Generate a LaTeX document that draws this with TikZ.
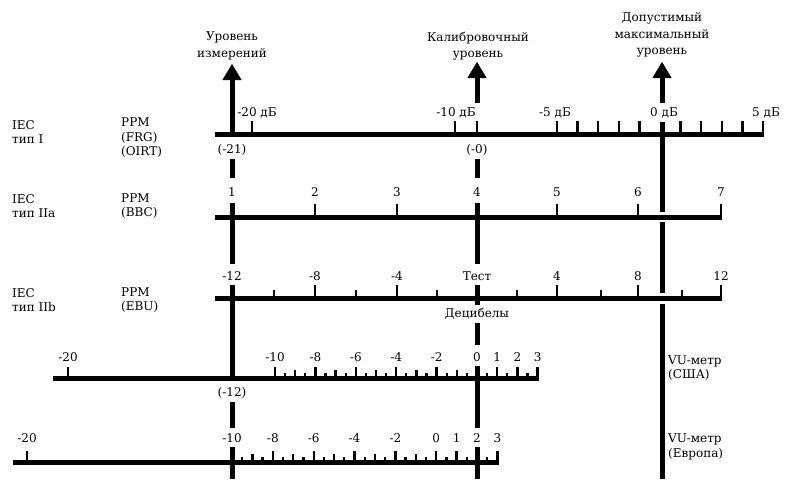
\documentclass[tikz,border=0pt]{standalone}
\usepackage{fontspec}
\setmainfont{DejaVu Serif}
\usetikzlibrary{arrows.meta}
\begin{document}
\begin{tikzpicture}[x=1pt,y=-1pt,
  lbl/.style={font=\fontsize{12}{14.5}\selectfont, inner sep=0pt},
  toplbl/.style={font=\fontsize{12}{16.5}\selectfont, align=center, inner sep=0pt},
  sidelbl/.style={font=\fontsize{12}{14.5}\selectfont, align=left, anchor=west, inner sep=0pt},
  scaleline/.style={line width=5pt},
  vline/.style={line width=5pt},
  tick/.style={line width=2.3pt},
  bigarrow/.style={line width=5pt, -{Triangle[width=19pt,length=16pt,line width=0.5pt]}},
]
\useasboundingbox (0,0) rectangle (786,479);

% ---- top labels and arrows
\node[toplbl] (tA) at (232,46) {Уровень\\измерений};
\node[toplbl] (tB) at (478,46) {Калибровочный\\уровень};
\node[toplbl] (tC) at (662,35) {Допустимый\\максимальный\\уровень};
\coordinate (aA0) at (232,136); \coordinate (aA1) at (232,64);
\coordinate (aB0) at (477,103); \coordinate (aB1) at (477,62);
\coordinate (aC0) at (662,103); \coordinate (aC1) at (662,62);
\draw[bigarrow] (aA0) -- (aA1);
\draw[bigarrow] (aB0) -- (aB1);
\draw[bigarrow] (aC0) -- (aC1);

% ---- left labels
\node[sidelbl] (l1a) at (12,132) {IEC\\тип I};
\node[sidelbl] (l1b) at (121,138) {PPM\\(FRG)\\(OIRT)};
\node[sidelbl] (l2a) at (12,206) {IEC\\тип IIa};
\node[sidelbl] (l2b) at (121,206) {PPM\\(BBC)};
\node[sidelbl] (l3a) at (12,300) {IEC\\тип IIb};
\node[sidelbl] (l3b) at (121,300) {PPM\\(EBU)};
\node[sidelbl] (l4) at (668,368) {VU-метр\\(США)};
\node[sidelbl] (l5) at (668,447) {VU-метр\\(Европа)};

% ---- vertical lines
% A
\draw[vline] (232,159) -- (232,178);
\draw[vline] (232,203) -- (232,264);
\draw[vline] (232,285) -- (232,380);
\draw[vline] (232,402) -- (232,428);
\draw[vline] (232,447) -- (232,479);
% B
\draw[vline] (477,159) -- (477,178);
\draw[vline] (477,203) -- (477,264);
\draw[vline] (477,285) -- (477,305);
\draw[vline] (477,323) -- (477,345);
\draw[vline] (477,366) -- (477,428);
\draw[vline] (477,447) -- (477,479);
% C
\draw[vline] (662,122) -- (662,212);
\draw[vline] (662,222) -- (662,293);
\draw[vline] (662,304) -- (662,479);

% ---- row 1 (IEC I)
\draw[scaleline] (215,134) -- (764,134);
\foreach \x in {252,455,477,557,577.6,598.2,618.8,639.4,680.6,701.2,721.8,742.4,763}
  \draw[tick] (\x,134) -- (\x,121);
\node[lbl] (r1a) at (257,113) {-20 дБ};
\node[lbl] (r1b) at (456,113) {-10 дБ};
\node[lbl] (r1c) at (555,113) {-5 дБ};
\node[lbl] (r1d) at (664,113) {0 дБ};
\node[lbl] (r1e) at (766,113) {5 дБ};
\node[lbl] (r1f) at (232,150) {(-21)};
\node[lbl] (r1g) at (477,150) {(-0)};

% ---- row 2 (IEC IIa)
\draw[scaleline] (215,217) -- (722,217);
\foreach \x in {315,397,557,638,721}
  \draw[tick] (\x,217) -- (\x,204);
\foreach \x/\t in {232/1,315/2,397/3,477/4,557/5,638/6,721/7}
  \node[lbl] at (\x,192) {\t};

% ---- row 3 (IEC IIb)
\draw[scaleline] (215,298) -- (722,298);
\foreach \x in {315,397,557,638,721}
  \draw[tick] (\x,298) -- (\x,285);
\foreach \x in {274,356,437,517,601,682}
  \draw[tick] (\x,298) -- (\x,290);
\foreach \x/\t in {232/-12,315/-8,397/-4,477/Тест,557/4,638/8,721/12}
  \node[lbl] at (\x,276) {\t};
\node[lbl] (dec) at (477,314) {Децибелы};

% ---- row 4 (VU USA)
\draw[scaleline] (53,378) -- (539,378);
\draw[tick] (68,378) -- (68,367);
\foreach \k in {0,2,4,6,8,11,12,13}
  \draw[tick] ({275+\k*20.2},378) -- ++(0,-11);
\foreach \k in {1,3,5,7,9}
  \draw[tick] ({275+\k*20.2},378) -- ++(0,-8);
\foreach \k in {0,...,12}
  \draw[tick] ({275+(\k+0.5)*20.2},378) -- ++(0,-5);
\node[lbl] at (68,357) {-20};
\foreach \k/\t in {0/-10,2/-8,4/-6,6/-4,8/-2,10/0,11/1,12/2,13/3}
  \node[lbl] at ({275+\k*20.2},357) {\t};
\node[lbl] (r4p) at (232,393) {(-12)};

% ---- row 5 (VU Europe)
\draw[scaleline] (13,462) -- (499,462);
\draw[tick] (27,462) -- (27,451);
\foreach \k in {2,4,6,8,10,11,13}
  \draw[tick] ({232+\k*20.42},462) -- ++(0,-11);
\foreach \k in {1,3,5,7,9}
  \draw[tick] ({232+\k*20.42},462) -- ++(0,-8);
\foreach \k in {0,...,12}
  \draw[tick] ({232+(\k+0.5)*20.42},462) -- ++(0,-5);
\node[lbl] at (27,438) {-20};
\foreach \k/\t in {0/-10,2/-8,4/-6,6/-4,8/-2,10/0,11/1,12/2,13/3}
  \node[lbl] at ({232+\k*20.42},438) {\t};
\end{tikzpicture}
\end{document}
